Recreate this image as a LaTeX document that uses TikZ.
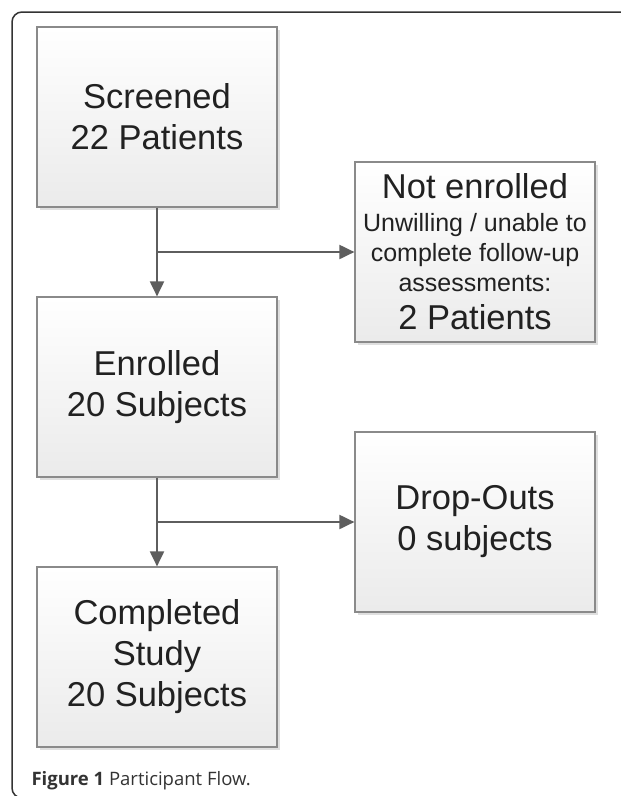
\documentclass[tikz,border=0pt]{standalone}
\usepackage{fontspec}
\setmainfont{Liberation Sans}
\newfontfamily\capfont{Open Sans}
\usetikzlibrary{arrows.meta,shadows}
\definecolor{boxline}{HTML}{8A8A8A}
\definecolor{flowline}{HTML}{5E5E5E}
\definecolor{frameline}{HTML}{333333}
\tikzstyle{Box}=[rectangle, minimum width=240pt, minimum height=180pt, align=center, draw=boxline, line width=1.2pt, top color=white, bottom color=black!8, drop shadow={shadow xshift=2.5pt, shadow yshift=-2.5pt, opacity=0.25}, text=black!87, font=\fontsize{34.5}{41}\selectfont]
\tikzstyle{Flow}=[draw=flowline, line width=2pt, -{Triangle[length=15pt,width=14pt]}]

\begin{document}
\begin{tikzpicture}[x=1pt, y=-1pt]
    \useasboundingbox (0,0) rectangle (621,796);
    \draw[frameline, line width=1.5pt, rounded corners=10pt] (630,12) -- (12,12) -- (12,798) -- (40,798);

    \path
    (157,117) node[Box] (screen) {Screened\\22 Patients}
    (157,387) node[Box] (enrol) {Enrolled\\20 Subjects}
    (157,657) node[Box] (compl) {Completed\\Study\\20 Subjects}
    (475,252) node[Box, font=\fontsize{25}{30}\selectfont] (notenr) {{\fontsize{34.5}{41}\selectfont Not enrolled}\\[3pt]
        Unwilling / unable to\\complete follow-up\\assessments:\\[8pt]
        {\fontsize{34.5}{41}\selectfont 2 Patients}}
    (475,522) node[Box] (drop) {Drop-Outs\\0 subjects};

    \coordinate (fork1) at (screen.south |- notenr.west);
    \coordinate (fork2) at (enrol.south |- drop.west);

    \draw[Flow] (screen) -- (enrol);
    \draw[Flow] (fork1) -- (notenr);
    \draw[Flow] (enrol) -- (compl);
    \draw[Flow] (fork2) -- (drop);

    \path (28,785) node[anchor=base west, font=\capfont\fontsize{18.5}{22}\selectfont, text=black!80] (caption) {\textbf{Figure 1} Participant Flow.};
\end{tikzpicture}
\end{document}
